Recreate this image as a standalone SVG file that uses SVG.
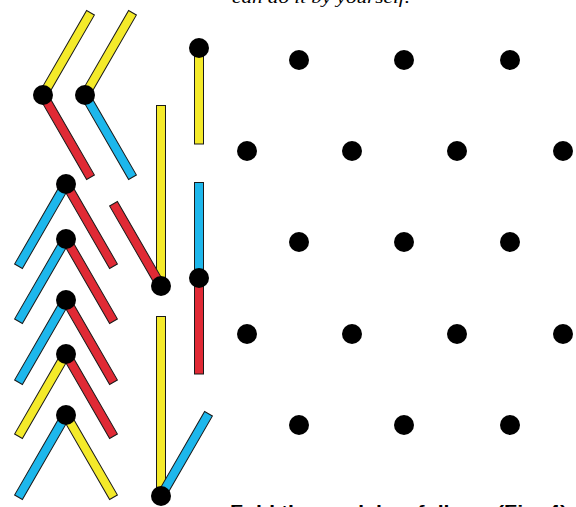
<svg xmlns="http://www.w3.org/2000/svg" width="576" height="507" viewBox="0 0 576 507">
<style>
.s{stroke:#1a1a1a;stroke-width:1}
.y{fill:#f4ea2a}
.r{fill:#e02a35}
.b{fill:#1db7ec}
.d{fill:#000}
.cap{font-family:"Liberation Serif",serif;font-style:italic;font-size:17px;fill:#000}
.cap2{font-family:"Liberation Sans",sans-serif;font-weight:bold;font-size:16px;fill:#000}
</style>
<defs>
<rect id="st" x="0" y="-4.5" width="95" height="9"/>
</defs>
<rect width="576" height="507" fill="#fff"/>
<text class="cap" x="232" y="3" textLength="178" lengthAdjust="spacingAndGlyphs">can do it by yourself.</text>
<text class="cap2" x="230" y="517" textLength="337" lengthAdjust="spacingAndGlyphs">Fold the model as follows (Fig. 4)</text>

<g id="figA">
<use href="#st" class="s y" transform="translate(43,95) rotate(-60)"/>
<use href="#st" class="s r" transform="translate(43,95) rotate(60)"/>
<circle class="d" cx="43" cy="95" r="10"/>
</g>
<g id="figB">
<use href="#st" class="s y" transform="translate(85,95) rotate(-60)"/>
<use href="#st" class="s b" transform="translate(85,95) rotate(60)"/>
<circle class="d" cx="85" cy="95" r="10"/>
</g>

<g id="chev1">
<use href="#st" class="s b" transform="translate(66,184) rotate(120)"/>
<use href="#st" class="s r" transform="translate(66,184) rotate(60)"/>
<circle class="d" cx="66" cy="184" r="10"/>
</g>
<g id="chev2">
<use href="#st" class="s b" transform="translate(66,239) rotate(120)"/>
<use href="#st" class="s r" transform="translate(66,239) rotate(60)"/>
<circle class="d" cx="66" cy="239" r="10"/>
</g>
<g id="chev3">
<use href="#st" class="s b" transform="translate(66,300) rotate(120)"/>
<use href="#st" class="s r" transform="translate(66,300) rotate(60)"/>
<circle class="d" cx="66" cy="300" r="10"/>
</g>
<g id="chev4">
<use href="#st" class="s y" transform="translate(66,354) rotate(120)"/>
<use href="#st" class="s r" transform="translate(66,354) rotate(60)"/>
<circle class="d" cx="66" cy="354" r="10"/>
</g>
<g id="chev5">
<use href="#st" class="s b" transform="translate(66,415) rotate(120)"/>
<use href="#st" class="s y" transform="translate(66,415) rotate(60)"/>
<circle class="d" cx="66" cy="415" r="10"/>
</g>

<g id="figC">
<rect class="s y" x="156.5" y="105.5" width="9" height="181"/>
<use href="#st" class="s r" transform="translate(161,286) rotate(-120)"/>
<circle class="d" cx="161" cy="286" r="10"/>
</g>
<g id="figD">
<rect class="s y" x="156.5" y="316.5" width="9" height="180"/>
<use href="#st" class="s b" transform="translate(161,496) rotate(-60)"/>
<circle class="d" cx="161" cy="496" r="10"/>
</g>
<g id="figE">
<rect class="s y" x="194.5" y="48" width="9" height="96"/>
<circle class="d" cx="199" cy="48" r="10"/>
</g>
<g id="figF">
<rect class="s b" x="194.5" y="182.5" width="9" height="96"/>
<rect class="s r" x="194.5" y="278" width="9" height="96"/>
<circle class="d" cx="199" cy="278" r="10"/>
</g>

<g id="grid" class="d">
<circle cx="299" cy="60" r="10"/><circle cx="404" cy="60" r="10"/><circle cx="510" cy="60" r="10"/>
<circle cx="247" cy="151" r="10"/><circle cx="352" cy="151" r="10"/><circle cx="457" cy="151" r="10"/><circle cx="563" cy="151" r="10"/>
<circle cx="299" cy="242" r="10"/><circle cx="404" cy="242" r="10"/><circle cx="510" cy="242" r="10"/>
<circle cx="247" cy="334" r="10"/><circle cx="352" cy="334" r="10"/><circle cx="457" cy="334" r="10"/><circle cx="563" cy="334" r="10"/>
<circle cx="299" cy="425" r="10"/><circle cx="404" cy="425" r="10"/><circle cx="510" cy="425" r="10"/>
</g>
</svg>
